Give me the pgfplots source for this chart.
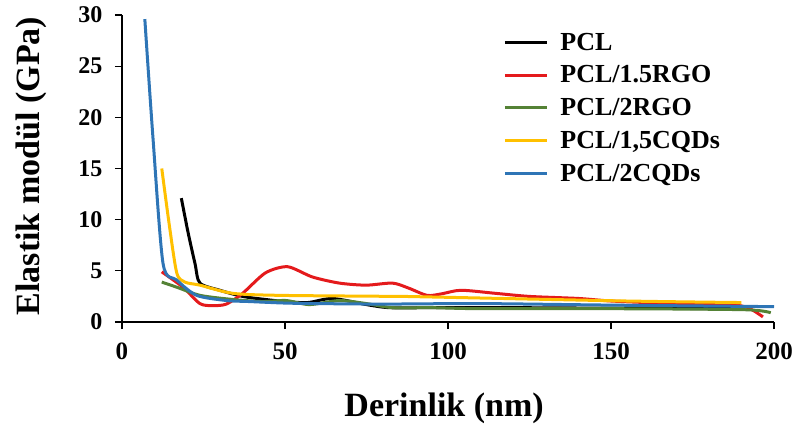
\documentclass[border=0pt]{standalone}
\usepackage{fontspec}
\setmainfont{Liberation Serif}
\usepackage{pgfplots}
\pgfplotsset{compat=1.18}
\definecolor{cRed}{RGB}{228,26,28}
\definecolor{cGreen}{RGB}{84,130,53}
\definecolor{cYellow}{RGB}{255,192,0}
\definecolor{cBlue}{RGB}{46,117,182}
\begin{document}
\begin{tikzpicture}
\begin{axis}[
  scale only axis, width=652pt, height=307pt,
  xmin=0, xmax=200, ymin=0, ymax=30,
  axis x line*=bottom, axis y line*=left,
  axis line style={line width=1.2pt},
  xtick={0,50,...,200}, ytick={0,5,...,30},
  tick align=outside, major tick length=7pt,
  tick style={line width=1.2pt, black},
  /pgf/number format/assume math mode=true,
  xticklabel style={font=\bfseries\fontsize{25}{27}\selectfont, yshift=-10pt},
  yticklabel style={font=\bfseries\fontsize{24}{26}\selectfont, xshift=-9pt},
  xlabel={Derinlik (nm)},
  ylabel={Elastik modül (GPa)},
  xlabel style={font=\bfseries\fontsize{34}{36}\selectfont, at={(axis description cs:0.494,0)}, anchor=base, yshift=-94pt},
  ylabel style={font=\bfseries\fontsize{34}{36}\selectfont, at={(axis description cs:0,0.508)}, anchor=base, yshift=82pt},
  legend style={draw=none, fill=none, at={(rel axis cs:0.58,0.955)}, anchor=north west,
    font=\bfseries\fontsize{26}{28}\selectfont, row sep=10pt,
    /tikz/every even column/.append style={column sep=4pt},
    /tikz/every odd column/.append style={column sep=10pt}},
  legend cell align=left,
  legend image code/.code={\draw[#1, line width=3pt] (0pt,0pt) -- (42pt,0pt);},
  every axis plot/.append style={line width=3pt, smooth, tension=0.45},
]
\addplot[black] coordinates {(18.2,12.1) (20.3,8.7) (22.4,5.7) (23.9,3.8) (30,3.1) (37,2.5) (44,2.2) (50,2.0) (57,1.9) (64.6,2.3) (75,1.7) (82,1.4) (95,1.4) (120,1.4) (150,1.35) (190,1.3)};
\addlegendentry{PCL}
\addplot[cRed] coordinates {(12.2,4.9) (18.7,3.4) (23.9,1.8) (27.8,1.6) (32,1.75) (37,2.8) (44,4.8) (50.8,5.4) (58.4,4.4) (66.7,3.8) (74.9,3.6) (83,3.8) (88,3.3) (93.6,2.6) (98,2.75) (104,3.1) (114.6,2.8) (125,2.5) (140,2.3) (150,2.05) (165.5,1.85) (186,1.7) (192,1.4) (196.6,0.5)};
\addlegendentry{PCL/1.5RGO}
\addplot[cGreen] coordinates {(12.2,3.9) (16.8,3.4) (24,2.6) (34,2.2) (43,2.0) (50.3,2.1) (57.5,1.7) (66.7,2.1) (75,1.8) (83,1.4) (95,1.4) (110,1.3) (150,1.3) (191,1.2) (199,0.9)};
\addlegendentry{PCL/2RGO}
\addplot[cYellow] coordinates {(12.2,15.0) (14.5,9.5) (16.8,4.8) (19.3,3.9) (23.9,3.6) (34,2.8) (49,2.6) (85,2.5) (94,2.45) (155,2.05) (190,1.9)};
\addlegendentry{PCL/1,5CQDs}
\addplot[cBlue] coordinates {(7,29.6) (9.5,18) (12.6,5.7) (16.8,4.1) (22.9,2.6) (32,2.1) (39,2.0) (50,1.85) (60,1.8) (80,1.75) (110,1.8) (150,1.65) (200,1.5)};
\addlegendentry{PCL/2CQDs}
\coordinate (O) at (rel axis cs:0,0);
\coordinate (T) at (rel axis cs:1,1);
\end{axis}
\pgfresetboundingbox
\path ([shift={(-122pt,-108pt)}]O) rectangle ([shift={(23pt,15pt)}]T);
\end{tikzpicture}
\end{document}
